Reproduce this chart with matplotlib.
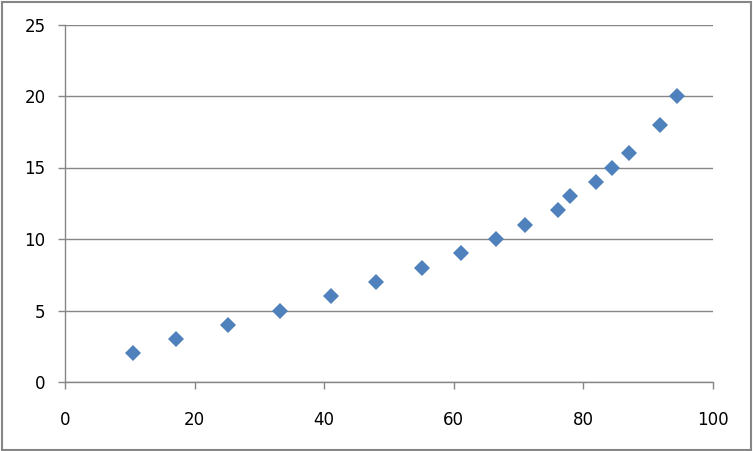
import matplotlib
matplotlib.use("Agg")
import matplotlib.pyplot as plt
from matplotlib.patches import Rectangle

# data
x_vals = [10.5, 17.1, 25.2, 33.2, 41.0, 48.0, 55.1, 61.1, 66.5, 71.0,
          76.1, 77.9, 81.9, 84.4, 87.0, 91.8, 94.4]
y_vals = [2, 3, 4, 5, 6, 7, 8, 9, 10, 11, 12, 13, 14, 15, 16, 18, 20]
x_ticks = [0, 20, 40, 60, 80, 100]
y_ticks = [0, 5, 10, 15, 20, 25]

GRAY = "#868686"
BLUE = "#4F81BD"

plt.rcParams["font.family"] = "DejaVu Sans"
fig = plt.figure(figsize=(7.53, 4.51), dpi=100)
ax = fig.add_axes([65 / 753, 1 - 382 / 451, (713 - 65) / 753, (382 - 24.5) / 451])

ax.plot(x_vals, y_vals, linestyle="none", marker="D", markersize=8.6,
        color=BLUE, markeredgewidth=0, zorder=3)

ax.set_xlim(0, 100)
ax.set_ylim(0, 25)
ax.set_xticks(x_ticks)
ax.set_yticks(y_ticks)
ax.grid(axis="y", color=GRAY, linewidth=1.0)
ax.set_axisbelow(True)

for side in ["top", "right"]:
    ax.spines[side].set_visible(False)
for side in ["left", "bottom"]:
    ax.spines[side].set_color(GRAY)
    ax.spines[side].set_linewidth(1.0)

ax.tick_params(axis="y", direction="out", length=5, width=1, color=GRAY,
               labelsize=12, pad=9)
ax.tick_params(axis="x", direction="out", length=5, width=1, color=GRAY,
               labelsize=12, pad=16)

# outer chart border
fig.patches.append(Rectangle((1.5 / 753, 1.5 / 451), 749 / 753, 448 / 451,
                             transform=fig.transFigure, fill=False,
                             edgecolor=GRAY, linewidth=1.5))

fig.savefig("out.png", dpi=100)
